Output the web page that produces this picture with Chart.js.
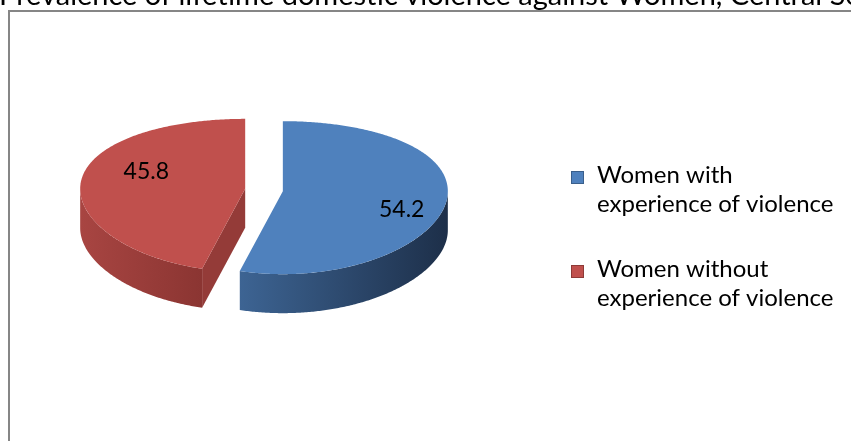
<!DOCTYPE html>
<html><head><meta charset="utf-8">
<script src="https://cdn.jsdelivr.net/npm/chart.js@4.4.1/dist/chart.umd.min.js"></script>
<style>html,body{margin:0;padding:0;background:#fff;overflow:hidden}</style>
</head><body>
<canvas id="c" width="851" height="441"></canvas>
<script>
const titleText = 'Prevalence of lifetime domestic violence against Women, Central Serbia';
const categories = [['Women with', 'experience of violence'], ['Women without', 'experience of violence']];
const values = [54.2, 45.8];
const valueLabels = ['54.2', '45.8'];
const topColors = ['#4F81BD', '#C0504D'];
const wallColors = [['#3d6493', '#1d2f49'], ['#a84542', '#8b3532']];
const cutColors = ['#2c4a70', '#943b38'];
const legendBorders = ['#3a5f8b', '#8e3a37'];

function proj(cx, cy, r, th, o) {
  const s = Math.sin(th);
  return [cx + r * Math.cos(th), cy + r * (o.tilt * s + o.persp * s * s)];
}
function rim(cx, cy, r, a0, a1, o) {
  const pts = [];
  const n = Math.max(2, Math.ceil(Math.abs(a1 - a0) / 0.01));
  for (let k = 0; k <= n; k++) pts.push(proj(cx, cy, r, a0 + (a1 - a0) * k / n, o));
  return pts;
}
function frontRanges(a0, a1) {
  const out = [];
  for (const b of [-2 * Math.PI, 0, 2 * Math.PI]) {
    const lo = Math.max(a0, b), hi = Math.min(a1, b + Math.PI);
    if (hi > lo) out.push([lo, hi]);
  }
  return out;
}

const pie3d = {
  id: 'pie3d',
  beforeDraw(chart, args, o) {
    const c = chart.ctx;
    c.save();
    c.strokeStyle = o.frameColor; c.lineWidth = 2;
    c.strokeRect(o.frameX, o.frameY, chart.width + 20, chart.height + 20);
    c.font = o.titleFont; c.fillStyle = '#000'; c.textBaseline = 'alphabetic'; c.textAlign = 'left';
    c.fillText(titleText, o.titleX, o.titleY);
    c.restore();
  },
  beforeDatasetsDraw(chart, args, o) {
    const c = chart.ctx;
    const arcs = chart.getDatasetMeta(0).data;
    const d = o.depth;
    const geo = arcs.map(arc => {
      const mid = (arc.startAngle + arc.endAngle) / 2;
      return {
        arc, mid, r: arc.outerRadius,
        ax: arc.x + Math.cos(mid) * o.explode,
        ay: arc.y + Math.sin(mid) * o.explode * o.tilt
      };
    });
    c.save();
    geo.forEach((g, i) => {
      const {arc, ax, ay, r} = g;
      [[arc.startAngle, -1], [arc.endAngle, 1]].forEach(([a, sgn]) => {
        if (Math.sin(a + sgn * Math.PI / 2) > 0.001) {
          const p = proj(ax, ay, r, a, o);
          c.beginPath();
          c.moveTo(ax, ay); c.lineTo(p[0], p[1]); c.lineTo(p[0], p[1] + d); c.lineTo(ax, ay + d);
          c.closePath(); c.fillStyle = cutColors[i]; c.fill();
        }
      });
      frontRanges(arc.startAngle, arc.endAngle).forEach(([lo, hi]) => {
        const top = rim(ax, ay, r, lo, hi, o);
        const xs = top.map(p => p[0]);
        const x0 = Math.min(...xs), x1 = Math.max(...xs);
        const grad = c.createLinearGradient(x0, 0, x1, 0);
        grad.addColorStop(0, wallColors[i][0]);
        grad.addColorStop(1, wallColors[i][1]);
        c.beginPath();
        top.forEach((p, k) => k ? c.lineTo(p[0], p[1]) : c.moveTo(p[0], p[1]));
        for (let k = top.length - 1; k >= 0; k--) c.lineTo(top[k][0], top[k][1] + d);
        c.closePath(); c.fillStyle = grad; c.fill();
      });
    });
    geo.forEach((g, i) => {
      const {arc, ax, ay, r} = g;
      const pts = rim(ax, ay, r, arc.startAngle, arc.endAngle, o);
      c.beginPath(); c.moveTo(ax, ay);
      pts.forEach(p => c.lineTo(p[0], p[1]));
      c.closePath(); c.fillStyle = arc.options.backgroundColor; c.fill();
    });
    c.font = o.labelFont; c.fillStyle = '#000'; c.textAlign = 'center'; c.textBaseline = 'middle';
    geo.forEach((g, i) => {
      const a = g.mid + o.labelAngleShift * Math.PI / 180;
      const p = proj(g.ax, g.ay, g.r * o.labelRadius, a, o);
      c.fillText(valueLabels[i], p[0] + o.labelShiftX, p[1]);
    });
    c.restore();
    return false;
  },
  afterDraw(chart, args, o) {
    const c = chart.ctx;
    const arcs = chart.getDatasetMeta(0).data;
    c.save();
    c.font = o.legendFont; c.textAlign = 'left'; c.textBaseline = 'alphabetic';
    let y = o.legendTop;
    chart.data.labels.forEach((lab, i) => {
      const lines = Array.isArray(lab) ? lab : [lab];
      c.fillStyle = arcs[i].options.backgroundColor;
      c.fillRect(o.legendX, y, o.boxSize, o.boxSize);
      c.strokeStyle = legendBorders[i]; c.lineWidth = 1;
      c.strokeRect(o.legendX + 0.5, y + 0.5, o.boxSize - 1, o.boxSize - 1);
      c.fillStyle = '#000';
      lines.forEach((ln, k) => c.fillText(ln, o.legendTextX, y + o.firstBaseline + k * o.lineHeight));
      y += lines.length * o.lineHeight + o.itemGap;
    });
    c.restore();
  }
};

new Chart(document.getElementById('c'), {
  type: 'pie',
  data: {
    labels: categories,
    datasets: [{ data: values, backgroundColor: topColors, borderWidth: 0 }]
  },
  options: {
    responsive: false,
    animation: false,
    events: [],
    layout: { padding: { left: 99, right: 422, top: 25, bottom: 86 } },
    plugins: {
      legend: { display: false },
      tooltip: { enabled: false },
      title: { display: false },
      pie3d: {
        depth: 39, tilt: 0.4636, persp: 0.0394, explode: 19,
        labelFont: '23px Lato', labelRadius: 0.7, labelAngleShift: 12, labelShiftX: 10,
        legendFont: '24px Lato', legendX: 571, legendTextX: 597, legendTop: 171,
        boxSize: 13, firstBaseline: 12, lineHeight: 29, itemGap: 36,
        titleFont: '29px Lato', titleX: -1, titleY: 5,
        frameColor: '#868686', frameX: 9, frameY: 11
      }
    }
  },
  plugins: [pie3d]
});
</script>
</body></html>
